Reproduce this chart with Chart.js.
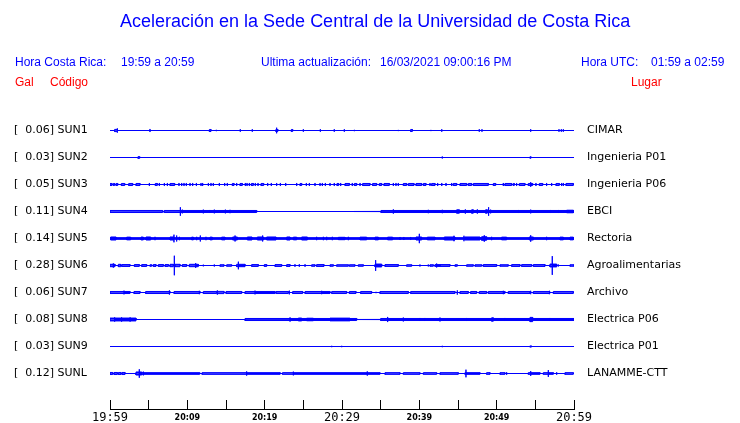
<!DOCTYPE html>
<html>
<head>
<meta charset="UTF-8" />
<title>Aceleración en la Sede Central de la Universidad de Costa Rica</title>
<script src="https://cdn.jsdelivr.net/npm/chart.js"></script>
<style>
    body { margin: 0; background: #fff; }
    #wrap { position: relative; width: 740px; height: 423px; }
    #graf { position: absolute; left: 0; top: 0; }
    .txt { position: absolute; font-family: "Liberation Sans", Arial, sans-serif; font-size: 12px; line-height: 12px; white-space: pre; color: #0000ff; z-index: 2; }
    .titulo { font-size: 18px; line-height: 18px; }
    .rojo { color: #ff0000; }
</style>
</head>
<body>
<div id="wrap">
    <div class="txt titulo" style="left:120px; top:12px;">Aceleración en la Sede Central de la Universidad de Costa Rica</div>
    <div class="txt" style="left:15px; top:55.5px;">Hora Costa Rica:</div>
    <div class="txt" style="left:121px; top:55.5px;">19:59 a 20:59</div>
    <div class="txt" style="left:261px; top:55.5px;">Ultima actualización:</div>
    <div class="txt" style="left:380px; top:55.5px;">16/03/2021 09:00:16 PM</div>
    <div class="txt" style="left:581px; top:55.5px;">Hora UTC:</div>
    <div class="txt" style="left:651px; top:55.5px;">01:59 a 02:59</div>
    <div class="txt rojo" style="left:15px; top:75.5px;">Gal</div>
    <div class="txt rojo" style="left:50px; top:75.5px;">Código</div>
    <div class="txt rojo" style="left:631px; top:75.5px;">Lugar</div>
    <canvas id="graf" width="740" height="423"></canvas>
</div>

<script type="text/javascript">
    // estaciones, de arriba hacia abajo
    const codes = ['SUN1', 'SUN2', 'SUN3', 'SUN4', 'SUN5', 'SUN6', 'SUN7', 'SUN8', 'SUN9', 'SUNL'];
    const places = ['CIMAR', 'Ingenieria P01', 'Ingenieria P06', 'EBCI', 'Rectoria', 'Agroalimentarias',
                    'Archivo', 'Electrica P06', 'Electrica P01', 'LANAMME-CTT'];
    const peaks = [0.06, 0.03, 0.05, 0.11, 0.14, 0.28, 0.06, 0.08, 0.03, 0.12];
    // etiquetas del eje de tiempo, una cada 5 minutos desde 19:59
    const tickLabels = ['19:59', '', '20:09', '', '20:19', '', '20:29', '', '20:39', '', '20:49', '', '20:59'];

    // eventos de cada traza: [min_inicio, min_fin, amplitud] o [min, amplitud] para un pico
    const sun1 = [[0.6, 0.95, 1.3], [0.95, 2.5], [5.17, 1.8], [12.85, 13.06, 1.2], [13.75, 0.8], [16.85, 1.5],
        [18.4, 1.5], [21.45, 21.7, 1.2], [21.55, 3.3], [23.45, 23.62, 1.2], [25.0, 1.5], [27.2, 1.5], [29.0, 1.5],
        [30.3, 1.5], [31.6, 0.8], [37.28, 0.7], [38.88, 39.1, 1.2], [41.5, 0.7], [42.9, 1.5], [47.75, 1.5],
        [48.1, 1.5], [54.4, 1.5], [58.06, 1.5], [58.36, 1.5], [58.62, 1.5]];
    const sun2 = [[3.62, 3.84, 1.0], [42.97, 1.2], [54.3, 54.45, 0.8]];
    const sun3 = [[0.0, 0.26, 1.2], [0.43, 0.6, 1.2], [0.78, 1.0, 1.2], [1.47, 1.9, 1.2], [2.42, 2.93, 1.2],
        [3.36, 3.88, 1.2], [5.09, 1.8], [5.86, 6.12, 1.2], [6.38, 1.8], [7.03, 1.8], [7.42, 1.8], [7.76, 8.36, 1.2],
        [8.92, 1.8], [9.27, 1.8], [9.57, 1.8], [9.87, 1.8], [10.35, 1.8], [10.69, 1.8], [11.17, 1.8], [11.77, 1.8],
        [11.98, 1.8], [12.72, 1.8], [13.06, 1.8], [13.36, 1.8], [14.14, 1.8], [14.83, 1.8], [15.17, 1.8],
        [15.82, 16.04, 1.2], [16.38, 1.8], [16.81, 17.11, 1.2], [17.5, 1.8], [17.72, 1.8], [18.02, 1.8],
        [18.28, 18.54, 1.2], [18.79, 1.8], [19.14, 1.8], [19.53, 19.87, 1.2], [20.39, 1.8], [20.86, 1.8],
        [21.55, 1.8], [22.03, 1.8], [22.72, 1.8], [24.14, 1.8], [24.57, 24.79, 1.2], [25.39, 1.8], [25.78, 1.8],
        [26.51, 1.8], [27.16, 1.8], [27.46, 1.8], [27.85, 1.8], [28.45, 1.8], [29.0, 1.8], [29.35, 29.57, 1.2],
        [29.83, 1.8], [30.39, 30.95, 1.2], [31.33, 1.8], [31.6, 31.9, 1.2], [32.33, 1.8], [32.67, 33.62, 1.2],
        [33.96, 34.48, 1.2], [34.83, 35.13, 1.2], [35.43, 36.12, 1.2], [36.64, 1.8], [36.98, 1.8], [37.28, 1.8],
        [37.93, 38.36, 1.2], [38.58, 39.31, 1.2], [39.57, 40.3, 1.2], [40.52, 40.86, 1.2], [41.38, 1.8],
        [41.59, 42.03, 1.2], [42.37, 1.8], [42.9, 1.8], [43.45, 1.8], [44.18, 1.8], [44.39, 44.83, 1.2],
        [45.26, 46.12, 1.2], [46.33, 46.76, 1.2], [46.98, 48.92, 1.2], [49.57, 49.87, 1.2], [50.86, 1.8],
        [51.07, 51.94, 1.2], [52.15, 52.28, 1.2], [52.58, 1.8], [52.93, 53.66, 1.2], [54.09, 54.65, 1.2],
        [54.4, 2.7], [55.08, 1.8], [55.52, 55.95, 1.2], [56.46, 1.8], [57.11, 1.8], [57.67, 58.1, 1.2],
        [58.4, 1.8], [58.62, 1.8], [58.96, 59.91, 1.2]];
    const sun4 = [[0, 6.8, 1.2], [7.0, 18.97, 1.2], [9.1, 5], [9.35, 2.2], [12.07, 2.2], [12.93, 1.8], [13.49, 2.2],
        [14.92, 2.2], [15.52, 2.0], [35.04, 60, 1.2], [36.64, 2.5], [41.16, 2.0], [42.97, 2.0], [44.83, 45.17, 2.0],
        [45.95, 2.5], [46.76, 46.98, 2.0], [47.5, 2.5], [48.57, 48.79, 2.0], [48.96, 5], [49.22, 2.2], [52.8, 1.8],
        [54.4, 2.2], [56.98, 1.8], [57.97, 1.8], [59.05, 59.91, 1.5]];
    const sun5 = [[0, 60, 1.0], [0.09, 0.78, 1.8], [2.16, 2.67, 1.6], [4.01, 4.31, 1.7], [4.66, 5.26, 1.8],
        [5.82, 2.0], [7.76, 8.27, 1.8], [8.27, 4.5], [8.62, 3.5], [8.97, 2.0], [10.56, 10.78, 1.6], [11.21, 2.0],
        [11.68, 3.5], [12.41, 2.0], [12.93, 13.23, 1.6], [14.44, 14.87, 1.6], [15.86, 16.47, 1.8], [16.17, 3.5],
        [17.76, 18.36, 1.8], [19.05, 19.83, 1.8], [19.74, 3.5], [20.26, 21.47, 1.8], [22.85, 23.28, 1.8],
        [23.71, 24.14, 1.6], [24.79, 25.52, 1.8], [26.72, 2.0], [27.59, 2.0], [28.02, 2.0], [28.75, 2.0],
        [29.53, 30.39, 1.4], [30.82, 2.0], [32.33, 33.19, 1.6], [34.27, 34.7, 1.6], [35.9, 36.55, 1.6],
        [37.5, 1.8], [38.0, 1.8], [38.88, 1.8], [39.57, 40.3, 1.8], [40.0, 5.5], [41.03, 42.03, 1.6],
        [43.23, 44.61, 1.8], [44.48, 3.2], [45.77, 3.2], [45.9, 47.84, 1.8], [48.06, 48.7, 2.1], [48.4, 3.8],
        [49.35, 2.0], [50.64, 51.29, 1.6], [54.22, 54.74, 1.8], [54.4, 3.8], [56.46, 2.0], [58.19, 58.62, 1.6],
        [59.48, 59.91, 1.6]];
    const sun6 = [[0, 0.65, 1.4], [0.43, 2.5], [1.08, 1.38, 1.4], [1.51, 2.59, 1.1], [3.15, 3.79, 1.1],
        [4.1, 4.74, 1.1], [5.17, 5.39, 0.9], [5.6, 5.95, 1.1], [6.25, 6.9, 1.1], [7.12, 7.55, 1.1],
        [7.76, 8.19, 1.4], [8.32, 11.5], [8.41, 9.05, 1.4], [9.35, 9.92, 1.1], [10.26, 11.42, 1.4], [11.08, 2.8],
        [12.07, 1.0], [13.49, 1.2], [14.22, 14.74, 0.9], [15.09, 15.73, 0.9], [16.38, 17.46, 1.4], [16.6, 4.5],
        [18.32, 19.18, 1.1], [19.96, 20.26, 1.1], [21.34, 22.2, 1.1], [22.85, 23.28, 1.1], [23.92, 1.5],
        [24.48, 1.5], [25.22, 1.5], [26.08, 26.51, 0.9], [26.72, 27.67, 1.1], [28.45, 28.88, 0.9],
        [29.31, 30.82, 0.9], [30.95, 31.68, 0.9], [32.11, 32.76, 0.9], [34.27, 35.13, 1.7], [34.35, 6.3],
        [35.56, 37.28, 1.1], [38.36, 39.01, 0.9], [40.08, 1.2], [41.16, 1.2], [41.38, 41.81, 0.9],
        [42.02, 42.67, 1.1], [42.24, 2.3], [42.67, 43.96, 1.1], [44.61, 44.91, 0.9], [46.12, 46.98, 0.9],
        [47.2, 48.06, 0.9], [48.27, 50.0, 1.1], [50.43, 51.5, 0.9], [51.94, 53.01, 1.1], [53.23, 54.52, 1.1],
        [54.74, 56.25, 1.1], [56.89, 57.76, 1.7], [57.19, 11], [57.97, 1.2], [59.48, 60, 0.9]];
    const sun7 = [[0, 2.59, 1.2], [1.81, 2.2], [3.1, 3.88, 1.2], [4.61, 7.76, 1.2], [7.68, 2.5], [8.28, 11.64, 1.2],
        [11.55, 2.0], [12.07, 13.79, 1.2], [13.88, 2.5], [13.88, 14.74, 1.3], [15.0, 17.03, 1.2], [17.46, 21.34, 1.2],
        [18.75, 2.2], [21.47, 23.06, 1.2], [23.19, 2.2], [23.62, 24.91, 1.2], [25.22, 28.45, 1.2], [27.37, 2.0],
        [28.67, 30.6, 1.2], [30.95, 31.81, 1.2], [32.41, 33.83, 1.2], [34.4, 0.8], [34.91, 38.58, 1.2],
        [38.88, 44.61, 1.2], [44.91, 2.5], [45.26, 46.33, 1.2], [46.63, 47.41, 1.2], [47.75, 48.7, 1.2],
        [48.92, 51.07, 1.2], [50.86, 2.0], [51.5, 54.31, 1.2], [54.4, 2.0], [54.74, 56.89, 1.2], [56.81, 2.0],
        [57.33, 59.91, 1.2]];
    const sun8 = [[0, 3.36, 1.7], [0.6, 2.5], [1.5, 2.5], [2.6, 2.5], [17.46, 31.9, 1.2], [23.28, 2.5],
        [24.35, 24.79, 1.7], [25.43, 26.29, 1.5], [28.45, 31.03, 1.6], [35.0, 60, 1.2], [35.9, 3.0], [37.93, 2.3],
        [40.08, 1.8], [40.73, 1.8], [42.67, 2.3], [46.12, 1.8], [49.35, 49.57, 2.0], [51.07, 1.8],
        [54.31, 54.65, 2.5], [56.89, 1.8]];
    const sun9 = [[28.67, 0.8], [29.96, 0.8], [42.97, 0.8], [54.3, 54.5, 0.7]];
    const sunL = [[0, 0.35, 1.2], [0.52, 0.95, 1.2], [1.08, 1.42, 1.2], [1.55, 1.94, 1.2], [3.36, 4.1, 1.8],
        [3.79, 5], [4.1, 11.6, 1.0], [4.31, 2.2], [11.9, 22.0, 1.0], [17.67, 2.5], [22.3, 34.91, 1.0], [23.71, 2.2],
        [33.27, 2.5], [35.56, 37.5, 1.0], [37.93, 40.08, 1.0], [40.52, 42.24, 1.0], [42.67, 45.04, 1.0],
        [45.9, 47.84, 1.0], [46.03, 4.5], [48.7, 49.14, 1.0], [50.43, 51.07, 1.0], [51.29, 1.5], [54.09, 55.6, 1.0],
        [54.4, 2.8], [56.03, 57.33, 1.0], [56.68, 4], [57.76, 1.5], [58.83, 59.91, 1.0]];
    const traces = [sun1, sun2, sun3, sun4, sun5, sun6, sun7, sun8, sun9, sunL];

    const SPACING = 27;   // separación entre trazas, en unidades del eje
    const GAIN = 0.85;    // ganancia de dibujo de la amplitud
    const bases = codes.map((c, i) => SPACING * (codes.length - i));
    const minutes = tickLabels.map((l, i) => i * 5);
    const AZUL = '#0000ff';

    // envolvente (arriba o abajo) de una traza a partir de sus eventos
    function envelope(events, base, sign) {
        const ev = events.map(e => e.length === 2 ? [e[0], e[0], e[1]] : e).sort((a, b) => a[0] - b[0]);
        const pts = [{ x: 0, y: base }];
        ev.forEach(([t0, t1, a]) => {
            const y = base + sign * a * GAIN;
            pts.push({ x: t0, y: base }, { x: t0, y: y }, { x: t1, y: y }, { x: t1, y: base });
        });
        pts.push({ x: 60, y: base });
        return pts;
    }

    const datasets = [];
    traces.forEach((ev, i) => {
        [1, -1].forEach(sign => {
            datasets.push({
                label: codes[i],
                data: envelope(ev, bases[i], sign),
                borderColor: AZUL,
                backgroundColor: AZUL,
                borderWidth: 1,
                pointRadius: 0,
                tension: 0,
                fill: { value: bases[i] }
            });
        });
    });

    const yRange = { min: -8.5, max: 297.5 };
    const noPad = s => { s.paddingTop = 0; s.paddingBottom = 0; };

    new Chart(document.getElementById('graf'), {
        type: 'line',
        data: { datasets: datasets },
        options: {
            responsive: false,
            animation: false,
            events: [],
            layout: { autoPadding: false, padding: { left: 14, top: 103, right: 0, bottom: 0 } },
            plugins: { legend: { display: false }, tooltip: { enabled: false } },
            scales: {
                x: {
                    type: 'linear',
                    min: 0,
                    max: 60,
                    afterBuildTicks: s => { s.ticks = minutes.map(v => ({ value: v })); },
                    afterFit: s => { s.height = 14; },
                    grid: { display: true, drawOnChartArea: false, drawTicks: true, tickLength: -9, color: '#000', lineWidth: 1 },
                    border: { display: true, color: '#000', width: 1 },
                    ticks: {
                        autoSkip: false,
                        maxRotation: 0,
                        padding: 10.5,
                        color: '#000',
                        callback: (v, i) => tickLabels[i],
                        font: c => (c.index % 6 === 0)
                            ? { family: 'DejaVu Sans Mono', size: 12, lineHeight: 1.2 }
                            : { family: 'DejaVu Sans', size: 8, weight: 'bold', lineHeight: 1.75 }
                    }
                },
                y: {
                    type: 'linear',
                    position: 'left',
                    min: yRange.min,
                    max: yRange.max,
                    afterBuildTicks: s => { s.ticks = bases.map(v => ({ value: v })); },
                    afterFit: s => { s.width = 96; noPad(s); },
                    grid: { display: false, drawTicks: false },
                    border: { display: false },
                    ticks: {
                        autoSkip: false,
                        crossAlign: 'far',
                        padding: 0,
                        color: '#000',
                        font: { family: 'DejaVu Sans', size: 11 },
                        callback: v => {
                            const i = bases.indexOf(v);
                            return '[  ' + peaks[i].toFixed(2) + '] ' + codes[i];
                        }
                    }
                },
                y2: {
                    type: 'linear',
                    position: 'right',
                    min: yRange.min,
                    max: yRange.max,
                    afterBuildTicks: s => { s.ticks = bases.map(v => ({ value: v })); },
                    afterFit: s => { s.width = 166; noPad(s); },
                    grid: { display: false, drawTicks: false },
                    border: { display: false },
                    ticks: {
                        autoSkip: false,
                        padding: 13,
                        color: '#000',
                        font: { family: 'DejaVu Sans', size: 11 },
                        callback: v => places[bases.indexOf(v)]
                    }
                }
            }
        }
    });
</script>
</body>
</html>
